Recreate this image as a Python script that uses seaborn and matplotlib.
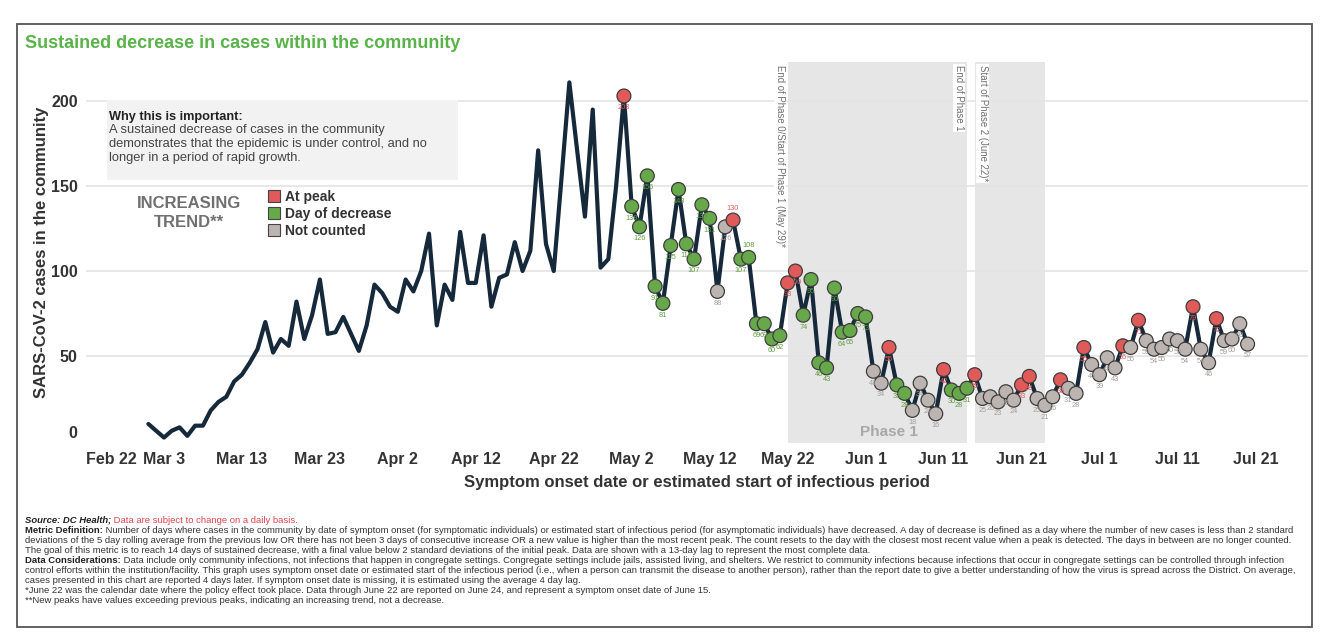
import numpy as np
import pandas as pd
import seaborn as sns
import matplotlib
matplotlib.use('Agg')
import matplotlib.pyplot as plt
import matplotlib.dates as mdates
from matplotlib.lines import Line2D
from matplotlib.patches import Rectangle
from matplotlib.transforms import ScaledTranslation

sns.set_theme(style='white')
plt.rcParams['font.family'] = ['Liberation Sans', 'DejaVu Sans']

# daily community cases by symptom onset (Mar 1 - Jul 20)
first_day = '2020-03-01'
cases_mar = [10, 6, 2, 6, 8, 3, 9, 9, 18, 23, 26, 35, 39, 46, 54, 70, 52, 60, 56, 82,
             60, 74, 95, 63, 64, 73, 63, 53, 68, 92, 87]
cases_apr = [79, 76, 95, 88, 100, 122, 68, 92, 83, 123, 93, 93, 121, 79, 96, 98, 117, 100,
             112, 171, 116, 100, 155, 211, 171, 132, 195, 102, 107, 150]
cases_may = [203, 138, 126, 156, 91, 81, 115, 148, 116, 107, 139, 131, 88, 126, 130, 107,
             108, 69, 69, 60, 62, 93, 100, 74, 95, 46, 43, 90, 64, 65, 75]
cases_jun = [73, 41, 34, 55, 33, 28, 18, 34, 24, 16, 42, 30, 28, 31, 39, 25, 26, 23, 29, 24,
             33, 38, 25, 21, 26, 36, 31, 28, 55, 45]
cases_jul = [39, 49, 43, 56, 55, 71, 59, 54, 55, 60, 59, 54, 79, 54, 46, 72, 59, 60, 69, 57]

# day status from May 1 on: P = at peak, D = day of decrease, N = not counted
first_marked = '2020-05-01'
status_may = "PDDDDDDDDDDDNNPDDDDDDPPDDDDDDDD"
status_jun = "DNNPDDNNNNPDDDPNNNNNPPNNNPNNPN"
status_jul = "NNNPNPNNNNNNPNNPNNNN"

status_names = {'P': 'At peak', 'D': 'Day of decrease', 'N': 'Not counted'}
status_colors = {'At peak': '#e05a5a', 'Day of decrease': '#67a94a', 'Not counted': '#bcb4b0'}
label_colors = {'At peak': '#e05a5a', 'Day of decrease': '#5f9e3f', 'Not counted': '#a39d99'}

# phase periods (shaded) and their notes
phase_spans = [('2020-05-22', '2020-06-14'), ('2020-06-15', '2020-06-24')]
phase_notes = [('2020-05-21', 'End of Phase 0/Start of Phase 1 (May 29)*'),
               ('2020-06-13', 'End of Phase 1'),
               ('2020-06-16', 'Start of Phase 2 (June 22)*')]

tick_dates = pd.date_range('2020-02-22', '2020-07-21', freq='10D')
y_ticks = [0, 50, 100, 150, 200]

footer_lines = [
    [("Source: DC Health;", dict(fontweight='bold', fontstyle='italic', color='#222')),
     (" Data are subject to change on a daily basis.", dict(color='#e0474c'))],
    [("Metric Definition:", dict(fontweight='bold', color='#222')),
     (" Number of days where cases in the community by date of symptom onset (for symptomatic individuals) or estimated start of infectious period (for asymptomatic individuals) have decreased. A day of decrease is defined as a day where the number of new cases is less than 2 standard", dict(color='#333'))],
    [("deviations of the 5 day rolling average from the previous low OR there has not been 3 days of consecutive increase OR a new value is higher than the most recent peak. The count resets to the day with the closest most recent value when a peak is detected. The days in between are no longer counted.", dict(color='#333'))],
    [("The goal of this metric is to reach 14 days of sustained decrease, with a final value below 2 standard deviations of the initial peak. Data are shown with a 13-day lag to represent the most complete data.", dict(color='#333'))],
    [("Data Considerations:", dict(fontweight='bold', color='#222')),
     (" Data include only community infections, not infections that happen in congregate settings. Congregate settings include jails, assisted living, and shelters. We restrict to community infections because infections that occur in congregate settings can be controlled through infection", dict(color='#333'))],
    [("control efforts within the institution/facility. This graph uses symptom onset date or estimated start of the infectious period (i.e., when a person can transmit the disease to another person), rather than the report date to give a better understanding of how the virus is spread across the District. On average,", dict(color='#333'))],
    [("cases presented in this chart are reported 4 days later. If symptom onset date is missing, it is estimated using the average 4 day lag.", dict(color='#333'))],
    [("*June 22 was the calendar date where the policy effect took place. Data through June 22 are reported on June 24, and represent a symptom onset date of June 15.", dict(color='#333'))],
    [("**New peaks have values exceeding previous peaks, indicating an increasing trend, not a decrease.", dict(color='#333'))],
]

cases = cases_mar + cases_apr + cases_may + cases_jun + cases_jul
df = pd.DataFrame({'date': pd.date_range(first_day, periods=len(cases)), 'cases': cases})
codes = status_may + status_jun + status_jul
marked = df[df['date'] >= pd.Timestamp(first_marked)].copy()
marked['status'] = [status_names[c] for c in codes]

W, H = 1328, 642


def fx(px):
    return px / W


def fy(py):
    return 1 - py / H


fig = plt.figure(figsize=(W / 100, H / 100), dpi=100)
fig.patch.set_facecolor('white')
ax = fig.add_axes([fx(86), fy(443), fx(1308) - fx(86), fy(62) - fy(443)])

for a, b in phase_spans:
    ax.axvspan(pd.Timestamp(a), pd.Timestamp(b), color='#e6e6e6', lw=0, zorder=0.2)

sns.lineplot(data=df, x='date', y='cases', color='#15293a', linewidth=3, ax=ax, zorder=3)
sns.scatterplot(data=marked, x='date', y='cases', hue='status', palette=status_colors,
                s=100, edgecolor='#3d3d3d', linewidth=0.9, legend=False, ax=ax, zorder=4)

# value labels under the dots; a 3-digit label right after a similar one goes above
prev = None
for d, v, st in zip(marked['date'], marked['cases'], marked['status']):
    dy = -8.5
    if prev is not None and v >= 100 and prev >= 100 and abs(v - prev) < 6:
        dy = 8.5
    ax.annotate(str(v), (d, v), xytext=(0, dy), textcoords='offset points',
                ha='center', va='center', fontsize=5.3, color=label_colors[st], zorder=5)
    prev = v

for d, note in phase_notes:
    ax.text(pd.Timestamp(d), 221, note, rotation=270, ha='center', va='top', fontsize=6.9,
            color='#707070', zorder=6,
            bbox=dict(boxstyle='square,pad=0.12', facecolor='white', edgecolor='none'))
ax.text(pd.Timestamp('2020-06-04'), 5, 'Phase 1', ha='center', va='center', fontsize=11,
        fontweight='bold', color='#a8a8a8', zorder=2)

ax.set_xlim(pd.Timestamp('2020-02-22'), pd.Timestamp('2020-07-27 18:00'))
ax.set_ylim(-1.2, 223)
ax.set_yticks(y_ticks)
ax.set_xticks(tick_dates)
ax.set_xticklabels([f"{d:%b} {d.day}" for d in tick_dates])
ax.get_xticklabels()[0].set_horizontalalignment('left')
ax.xaxis.set_minor_locator(mdates.DayLocator())

ax.yaxis.grid(True, color='#e4e4e4', lw=1.2)
ax.get_ygridlines()[0].set_visible(False)
ax.set_axisbelow(True)
for s in ax.spines.values():
    s.set_visible(False)

ax.tick_params(axis='x', which='major', length=3.5, width=1.2, color='#8a8a8a', pad=3,
               labelsize=11.5, labelcolor='#333')
ax.tick_params(axis='x', which='minor', length=2, width=1.2, color='#a0a0a0')
ax.tick_params(axis='y', length=0, pad=6, labelsize=11.5, labelcolor='#333')
for lab in ax.get_xticklabels() + ax.get_yticklabels():
    lab.set_fontweight('bold')
zero_lab = ax.get_yticklabels()[0]
zero_lab.set_transform(zero_lab.get_transform() + ScaledTranslation(0, 0.09, fig.dpi_scale_trans))

ax.set_xlabel('Symptom onset date or estimated start of infectious period', fontsize=12,
              fontweight='bold', color='#333', labelpad=6)
ax.set_ylabel('SARS-CoV-2 cases in the community', fontsize=12, fontweight='bold',
              color='#333', labelpad=1)

# title, info box, trend text and legend
fig.text(fx(25), fy(44), 'Sustained decrease in cases within the community', fontsize=13,
         fontweight='bold', color='#58b348', va='center')
fig.patches.append(Rectangle((fx(107), fy(180)), fx(458) - fx(107), fy(100) - fy(180),
                             transform=fig.transFigure, facecolor='#f2f2f2', edgecolor='none',
                             zorder=5))
fig.text(fx(109), fy(117), 'Why this is important:', fontsize=9.2, fontweight='bold',
         color='#222', va='center', zorder=6)
fig.text(fx(109), fy(124), 'A sustained decrease of cases in the community\n'
         'demonstrates that the epidemic is under control, and no\n'
         'longer in a period of rapid growth.', fontsize=9.3, color='#444', va='top',
         linespacing=1.2, zorder=6)
fig.text(fx(189), fy(213), 'INCREASING\nTREND**', fontsize=12, fontweight='bold',
         color='#707070', ha='center', va='center', linespacing=1.3)

handles = [Line2D([], [], marker='s', linestyle='', markersize=8, markerfacecolor=c,
                  markeredgecolor='#444', markeredgewidth=0.8) for c in status_colors.values()]
ax.legend(handles, list(status_colors.keys()), loc='upper left',
          bbox_to_anchor=(fx(268), fy(190)), bbox_transform=fig.transFigure, frameon=False,
          handlelength=0.8, handletextpad=0.45, labelspacing=0.2, borderpad=0, borderaxespad=0,
          prop=dict(weight='bold', size=10), labelcolor='#333')

# footnotes
renderer = fig.canvas.get_renderer()
for i, parts in enumerate(footer_lines):
    x = 25
    y = 523 + 10 * i
    for txt, style in parts:
        t = fig.text(fx(x), fy(y), txt, va='baseline', ha='left', fontsize=6.8, **style)
        x += t.get_window_extent(renderer).width

fig.patches.append(Rectangle((fx(17), fy(627)), fx(1312) - fx(17), fy(24) - fy(627),
                             transform=fig.transFigure, facecolor='none', edgecolor='#555',
                             lw=1.3))

fig.savefig('out.png', dpi=100)
